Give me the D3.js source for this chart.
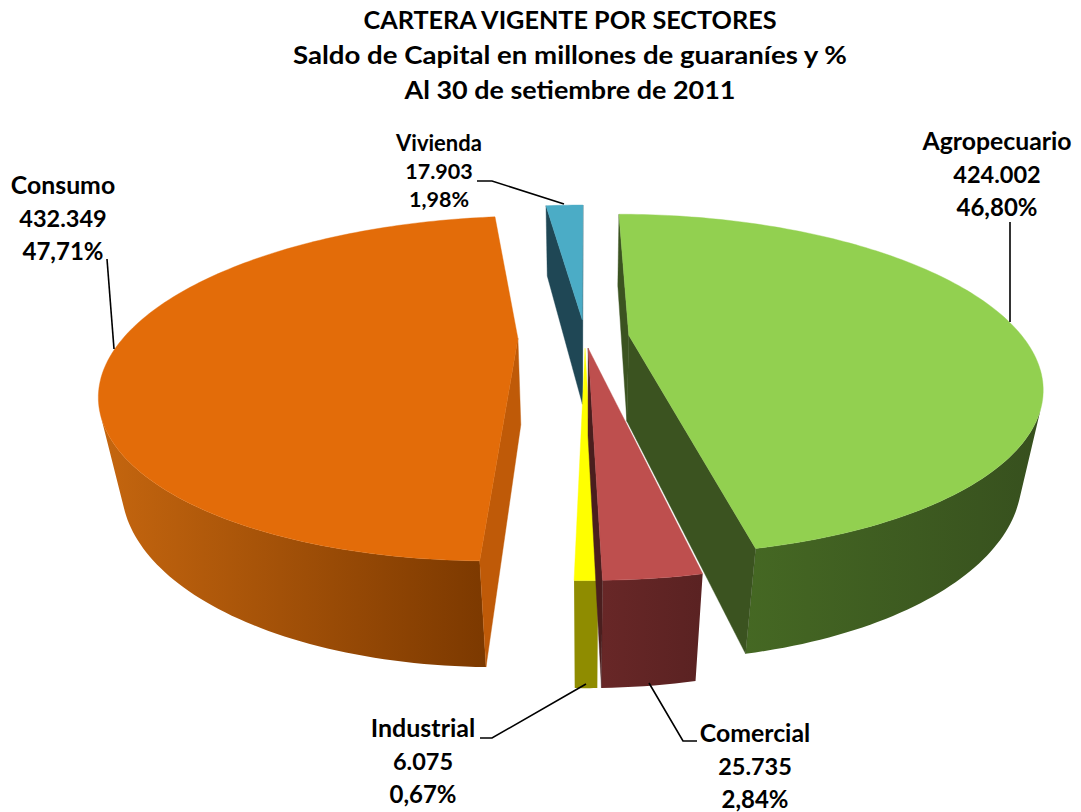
<!DOCTYPE html>
<html><head><meta charset="utf-8">
<script src="https://cdn.jsdelivr.net/npm/d3@7"></script>
<style>html,body{margin:0;padding:0;background:#fff}svg{display:block}text{font-family:Lato,"Open Sans",sans-serif;font-weight:700;fill:#000}</style>
</head><body><svg id="c" width="1081" height="812"></svg>
<script>
const categories = ["Agropecuario","Comercial","Industrial","Consumo","Vivienda"];
const values = [424002,25735,6075,432349,17903];
const valueLabels = ["424.002","25.735","6.075","432.349","17.903"];
const percentLabels = ["46,80%","2,84%","0,67%","47,71%","1,98%"];
const titleLines = ["CARTERA VIGENTE POR SECTORES","Saldo de Capital en millones de guaraníes y %","Al 30 de setiembre de 2011"];

const titleWidths = [413,554,331];
const topColors = ["#92D050","#BE4F4E","#FFFF00","#E36C09","#4BACC6"];
const radialColors = ["#3B5320","#4A1E1E","#8F8C00","#BF5A08","#1F4755"];
const wallLeft = ["#456823","#682727","#8F8C00","#C5660F","#1F4755"];
const wallRight = ["#37501E","#5A2222","#8F8C00","#7C3900","#1F4755"];
const explode = [0.112,0.07,0.07,0.17,0.112];
const drawOrder = [4,3,0,2,1];
const labelPos = [[997,142],[755,734],[423,729],[63,186],[439,143]];
const labelSize = [[24.8,23.5,24],[24.8,23.5,24],[25,23.5,24],[24.8,23.5,24],[22,21.5,21.5]];
const labelStep = [33,33,33,33,28];
const leaders = [
  [[1010,222],[1010,322]],
  [[649,683],[683,741],[697,741]],
  [[586,684],[492,738],[480,738]],
  [[107,259],[114,349]],
  [[477,181],[492,181],[564,204]]
];

const cam = {cx:585, cy:337, A:394, B:157, H:90, k:0.29, m:0.045};
function project(X,Y,Z){
  const w = 1 + cam.k*Y + cam.m*Z;
  return [cam.cx + cam.A*X/w, cam.cy + (-cam.B*Y + cam.H*Z)/w];
}
const svg = d3.select("#c");
const defs = svg.append("defs");
svg.append("g").selectAll("text").data(titleLines).join("text")
  .attr("x",570).attr("y",(d,i)=>29+i*35).attr("text-anchor","middle").attr("font-size",25.5)
  .attr("textLength",(d,i)=>titleWidths[i]).attr("lengthAdjust","spacingAndGlyphs").text(d=>d);

const arcs = d3.pie().sort(null).value(d=>d)(values);
const line = d3.line().curve(d3.curveLinearClosed);
const area = d3.polygonArea;

function drawSlice(i){
  const a = arcs[i];
  const mid = (a.startAngle+a.endAngle)/2;
  const ox = explode[i]*Math.sin(mid), oy = explode[i]*Math.cos(mid);
  const n = Math.max(6,Math.ceil((a.endAngle-a.startAngle)/0.02));
  const angles = d3.range(n+1).map(j=>a.startAngle+(a.endAngle-a.startAngle)*j/n);
  const world = angles.map(t=>[ox+Math.sin(t),oy+Math.cos(t)]);
  const center = [ox,oy];
  const ring = [center,...world];
  const g = svg.append("g");
  const quadOf = (u,v)=>[project(u[0],u[1],0),project(v[0],v[1],0),project(v[0],v[1],1),project(u[0],u[1],1)];
  const grad = defs.append("linearGradient").attr("id","wall"+i);
  grad.append("stop").attr("offset",0).attr("stop-color",wallLeft[i]);
  grad.append("stop").attr("offset",1).attr("stop-color",wallRight[i]);
  const front = d3.range(n).filter(j=>area(quadOf(world[j],world[j+1]))>0);
  if(front.length){
    const run = world.slice(front[0],front[front.length-1]+2);
    const poly = [...run.map(p=>project(p[0],p[1],0)),...run.slice().reverse().map(p=>project(p[0],p[1],1))];
    g.append("path").attr("d",line(poly)).attr("fill",`url(#wall${i})`);
  }
  [[center,world[0]],[world[n],center]].forEach(([u,v])=>{
    const q = quadOf(u,v);
    if(area(q)>0) g.append("path").attr("d",line(q)).attr("fill",radialColors[i]).attr("stroke",radialColors[i]).attr("stroke-width",0.4);
  });
  g.append("path").attr("d",line(ring.map(p=>project(p[0],p[1],0)))).attr("fill",topColors[i]).attr("stroke",topColors[i]).attr("stroke-width",0.4);
}
drawOrder.forEach(drawSlice);

const lineOpen = d3.line();
svg.append("g").selectAll("path").data(leaders).join("path")
  .attr("d",d=>lineOpen(d)).attr("fill","none").attr("stroke","#000").attr("stroke-width",1.6);

categories.forEach((c,i)=>{
  const t = svg.append("text").attr("text-anchor","middle");
  [c,valueLabels[i],percentLabels[i]].forEach((s,j)=>{
    t.append("tspan").attr("x",labelPos[i][0]).attr("y",labelPos[i][1]+j*labelStep[i]+8).attr("font-size",labelSize[i][j]).text(s);
  });
});
</script></body></html>
